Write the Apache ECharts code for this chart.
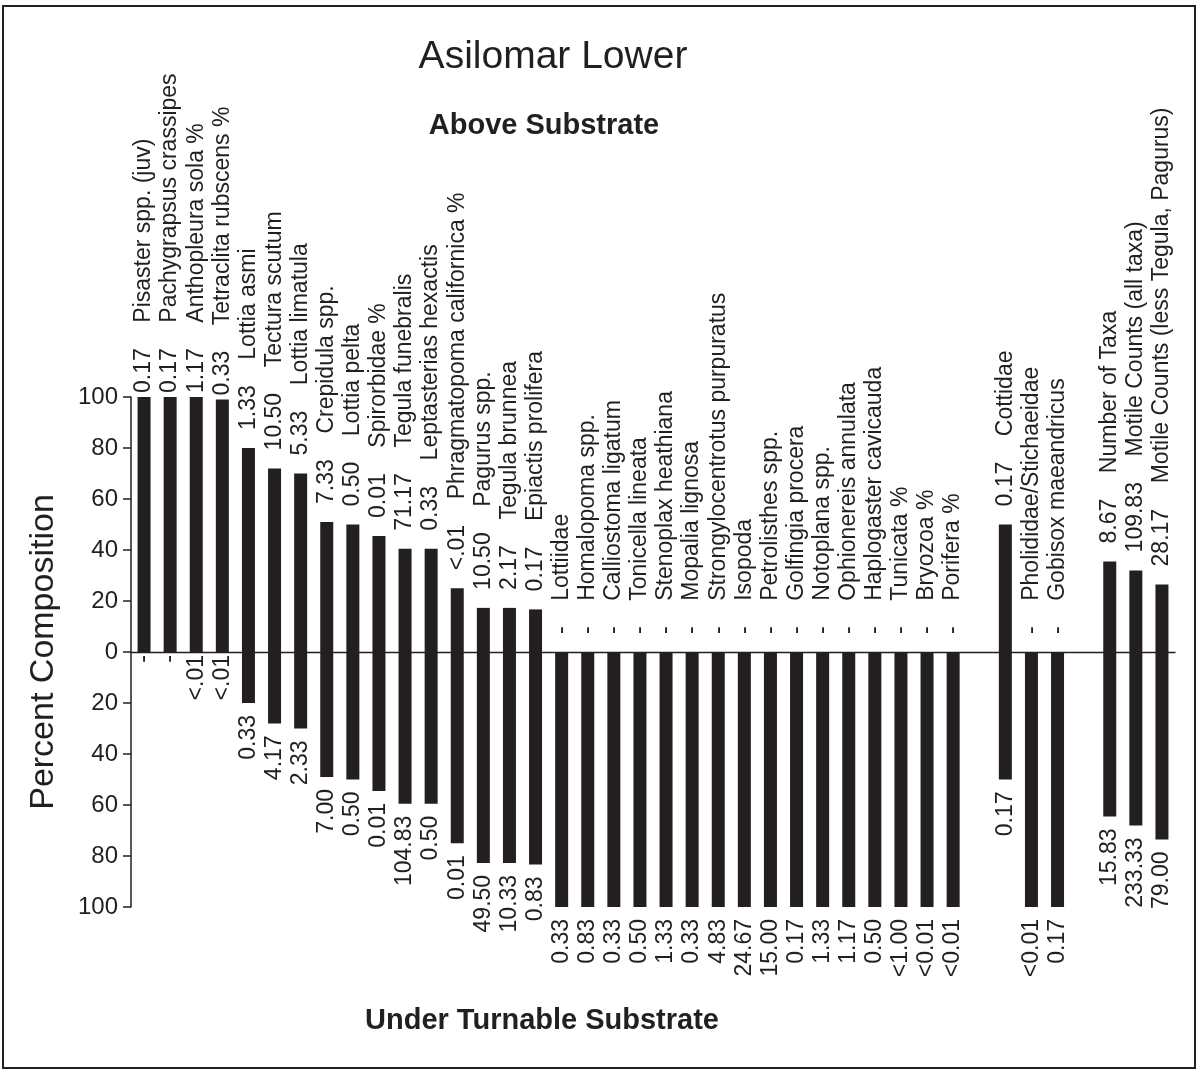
<!DOCTYPE html>
<html>
<head>
<meta charset="utf-8">
<script src="https://cdn.jsdelivr.net/npm/echarts@6/dist/echarts.min.js"></script>
<style>
  html, body { margin: 0; padding: 0; background: #fff; }
  #wrap { position: relative; width: 1198px; height: 1070px; }
  #chart { position: absolute; left: 0; top: 0; width: 1198px; height: 1070px; }
  #frame { position: absolute; left: 2px; top: 5px; width: 1194px; height: 1064px; box-sizing: border-box;
           border: 2px solid #231f20; pointer-events: none; }
</style>
</head>
<body>
<div id="wrap"><div id="chart"></div><div id="frame"></div></div>
<script>
// ---- data ----
var names = [
  'Pisaster spp. (juv)', 'Pachygrapsus crassipes', 'Anthopleura sola %', 'Tetraclita rubscens %',
  'Lottia asmi', 'Tectura scutum', 'Lottia limatula', 'Crepidula spp.', 'Lottia pelta',
  'Spirorbidae %', 'Tegula funebralis', 'Leptasterias hexactis', 'Phragmatopoma californica %',
  'Pagurus spp.', 'Tegula brunnea', 'Epiactis prolifera',
  'Lottiidae', 'Homalopoma spp.', 'Calliostoma ligatum', 'Tonicella lineata', 'Stenoplax heathiana',
  'Mopalia lignosa', 'Strongylocentrotus purpuratus', 'Isopoda', 'Petrolisthes spp.',
  'Golfingia procera', 'Notoplana spp.', 'Ophionereis annulata', 'Haplogaster cavicauda',
  'Tunicata %', 'Bryozoa %', 'Porifera %',
  '',
  'Cottidae', 'Pholididae/Stichaeidae', 'Gobisox maeandricus',
  '',
  'Number of Taxa', 'Motile Counts (all taxa)', 'Motile Counts (less Tegula, Pagurus)'
];
// percent of composition above substrate
var abovePct = [
  100, 100, 100, 99, 80, 72, 70, 51, 50, 45.5, 40.5, 40.5, 25, 17.3, 17.3, 16.7,
  0, 0, 0, 0, 0, 0, 0, 0, 0, 0, 0, 0, 0, 0, 0, 0,
  null,
  50, 0, 0,
  null,
  35.5, 32, 26.5
];
// percent of composition under turnable substrate
var belowPct = [
  0, 0, 0, 0, 20, 28, 30, 49, 50, 54.5, 59.5, 59.5, 75, 82.7, 82.7, 83.3,
  100, 100, 100, 100, 100, 100, 100, 100, 100, 100, 100, 100, 100, 100, 100, 100,
  null,
  50, 100, 100,
  null,
  64.5, 68, 73.5
];
var aboveText = [
  '0.17', '0.17', '1.17', '0.33', '1.33', '10.50', '5.33', '7.33', '0.50', '0.01', '71.17', '0.33',
  '<.01', '10.50', '2.17', '0.17',
  '-', '-', '-', '-', '-', '-', '-', '-', '-', '-', '-', '-', '-', '-', '-', '-',
  '',
  '0.17', '-', '-',
  '',
  '8.67', '109.83', '28.17'
];
var belowText = [
  '-', '-', '<.01', '<.01', '0.33', '4.17', '2.33', '7.00', '0.50', '0.01', '104.83', '0.50',
  '0.01', '49.50', '10.33', '0.83',
  '0.33', '0.83', '0.33', '0.50', '1.33', '0.33', '4.83', '24.67', '15.00', '0.17', '1.33',
  '1.17', '0.50', '<1.00', '<0.01', '<0.01',
  '',
  '0.17', '<0.01', '0.17',
  '',
  '15.83', '233.33', '79.00'
];
var yTicks = [-100, -80, -60, -40, -20, 0, 20, 40, 60, 80, 100];

// ---- chart ----
var INK = '#231f20';
var FONT = '"Liberation Sans", Arial, Helvetica, sans-serif';
var chart = echarts.init(document.getElementById('chart'), null, { renderer: 'canvas' });

var categories = names.map(function (n, i) { return 'c' + i; });

var topData = abovePct.map(function (v) {
  if (v === null) return null;
  return { value: v, label: { distance: v >= 99 ? 4 : 18 } };
});
var bottomData = belowPct.map(function (v) {
  if (v === null) return null;
  return { value: -v, label: { distance: v === 0 ? 3 : 12 } };
});

var option = {
  animation: false,
  backgroundColor: '#ffffff',
  textStyle: { fontFamily: FONT, color: INK },
  grid: { left: 131, right: 23, top: 397, bottom: 163, containLabel: false },
  xAxis: {
    type: 'category',
    data: categories,
    axisLine: { show: true, onZero: true, lineStyle: { color: INK, width: 1.3 } },
    axisTick: { show: false },
    axisLabel: { show: false },
    splitLine: { show: false }
  },
  yAxis: {
    type: 'value',
    min: yTicks[0],
    max: yTicks[yTicks.length - 1],
    interval: 20,
    axisLine: { show: true, lineStyle: { color: INK, width: 1.5 } },
    axisTick: { show: true, inside: false, length: 8, lineStyle: { color: INK, width: 1.5 } },
    axisLabel: {
      fontSize: 24, color: INK, fontFamily: FONT, margin: 13,
      formatter: function (v) { return String(Math.abs(v)); }
    },
    splitLine: { show: false },
    name: 'Percent Composition',
    nameLocation: 'middle',
    nameRotate: 90,
    nameGap: 70,
    nameTextStyle: { fontSize: 34, color: INK, fontFamily: FONT }
  },
  series: [
    {
      name: 'Above Substrate',
      type: 'bar',
      data: topData,
      barWidth: 13,
      barGap: '-100%',
      itemStyle: { color: INK },
      label: {
        show: true,
        position: 'top',
        rotate: 90,
        align: 'left',
        verticalAlign: 'middle',
        fontSize: 23,
        fontFamily: FONT,
        color: INK,
        formatter: function (p) {
          return aboveText[p.dataIndex] + '    ' + names[p.dataIndex];
        }
      }
    },
    {
      name: 'Under Turnable Substrate',
      type: 'bar',
      data: bottomData,
      barWidth: 13,
      barGap: '-100%',
      itemStyle: { color: INK },
      label: {
        show: true,
        position: 'bottom',
        rotate: 90,
        align: 'right',
        verticalAlign: 'middle',
        fontSize: 23,
        fontFamily: FONT,
        color: INK,
        formatter: function (p) { return belowText[p.dataIndex]; }
      }
    }
  ],
  graphic: [
    { type: 'text', x: 553, y: 57, style: { text: 'Asilomar Lower', fill: INK,
      font: '39px ' + FONT, textAlign: 'center', textVerticalAlign: 'middle' } },
    { type: 'text', x: 544, y: 126, style: { text: 'Above Substrate', fill: INK,
      font: 'bold 29px ' + FONT, textAlign: 'center', textVerticalAlign: 'middle' } },
    { type: 'text', x: 542, y: 1021, style: { text: 'Under Turnable Substrate', fill: INK,
      font: 'bold 29px ' + FONT, textAlign: 'center', textVerticalAlign: 'middle' } }
  ]
};
chart.setOption(option);
</script>
</body>
</html>
